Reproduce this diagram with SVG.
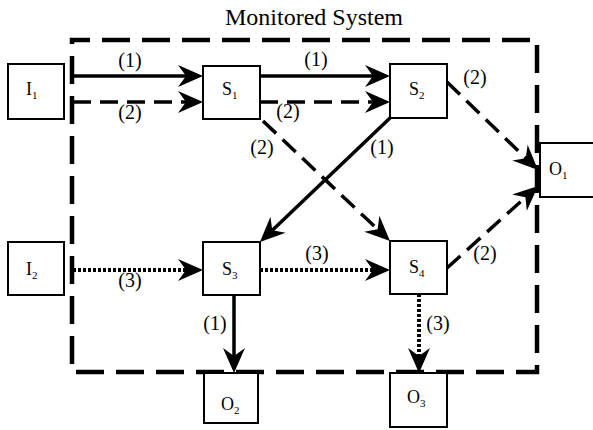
<svg xmlns="http://www.w3.org/2000/svg" width="593" height="430" viewBox="0 0 593 430">
<style>
  text { font-family: "Liberation Serif", "Times New Roman", serif; fill: #000; }
  .box { fill: #fff; stroke: #000; stroke-width: 2; }
  .lbl { font-size: 18px; }
  .sub { font-size: 11px; }
  .num { font-size: 20px; text-anchor: middle; }
  .solid { stroke: #000; stroke-width: 3.5; fill: none; marker-end: url(#ah); }
  .dash { stroke: #000; stroke-width: 3.5; fill: none; stroke-dasharray: 18 9; marker-end: url(#ah); }
  .dot { stroke: #000; stroke-width: 4; fill: none; stroke-dasharray: 3 2; marker-end: url(#ah); }
</style>
<defs>
  <marker id="ah" markerUnits="userSpaceOnUse" markerWidth="26" markerHeight="24" refX="10" refY="11" orient="auto" overflow="visible">
    <path d="M0,0 L25,11 L0,22 L8,11 Z" fill="#000" stroke="none"/>
  </marker>
</defs>
<rect width="593" height="430" fill="#fff"/>
<text x="314" y="25" text-anchor="middle" font-size="24">Monitored System</text>
<g id="boundary">
  <rect x="72" y="40" width="465" height="332" fill="none" stroke="#000" stroke-width="4.5" stroke-dasharray="28 12" stroke-dashoffset="10"/>
</g>
<g id="connectors">
  <line class="solid" x1="73" y1="76" x2="188" y2="76"/>
  <line class="dash" x1="73" y1="102" x2="188" y2="102"/>
  <line class="solid" x1="260" y1="76" x2="375" y2="76"/>
  <line class="dash" x1="260" y1="102" x2="375" y2="102"/>
  <line class="dash" x1="263" y1="121" x2="379.1" y2="230.7"/>
  <line class="solid" x1="390" y1="118" x2="270.8" y2="231.7"/>
  <line class="dash" x1="447" y1="82" x2="527.2" y2="159.6"/>
  <line class="dash" x1="447" y1="268" x2="526.9" y2="196"/>
  <line class="dot" x1="73" y1="270" x2="188" y2="270"/>
  <line class="dot" x1="260" y1="270" x2="375" y2="270"/>
  <line class="solid" x1="234" y1="295" x2="234" y2="358"/>
  <line class="dot" x1="419" y1="294" x2="419" y2="358"/>
  <text class="num" x="130" y="67">(1)</text>
  <text class="num" x="130" y="119">(2)</text>
  <text class="num" x="316" y="66">(1)</text>
  <text class="num" x="288" y="118">(2)</text>
  <text class="num" x="262" y="154">(2)</text>
  <text class="num" x="382" y="154">(1)</text>
  <text class="num" x="475" y="84">(2)</text>
  <text class="num" x="485" y="260">(2)</text>
  <text class="num" x="130" y="287">(3)</text>
  <text class="num" x="317" y="260">(3)</text>
  <text class="num" x="215" y="330">(1)</text>
  <text class="num" x="438" y="330">(3)</text>
</g>
<g id="I1"><rect class="box" x="8" y="64" width="56" height="55"/><text class="lbl" x="26" y="95">I<tspan class="sub" dy="4">1</tspan></text></g>
<g id="I2"><rect class="box" x="8" y="242" width="56" height="53"/><text class="lbl" x="26" y="275">I<tspan class="sub" dy="4">2</tspan></text></g>
<g id="S1"><rect class="box" x="203" y="66" width="57" height="53"/><text class="lbl" x="222" y="95">S<tspan class="sub" dy="4">1</tspan></text></g>
<g id="S2"><rect class="box" x="390" y="64" width="57" height="54"/><text class="lbl" x="409" y="95">S<tspan class="sub" dy="4">2</tspan></text></g>
<g id="S3"><rect class="box" x="203" y="242" width="57" height="53"/><text class="lbl" x="222" y="275">S<tspan class="sub" dy="4">3</tspan></text></g>
<g id="S4"><rect class="box" x="390" y="241" width="57" height="53"/><text class="lbl" x="409" y="273">S<tspan class="sub" dy="4">4</tspan></text></g>
<g id="O1"><rect class="box" x="540" y="143" width="60" height="54"/><text class="lbl" x="549" y="175">O<tspan class="sub" dy="4">1</tspan></text></g>
<g id="O2"><rect class="box" x="204" y="373" width="54" height="50"/><text class="lbl" x="221" y="410">O<tspan class="sub" dy="4">2</tspan></text></g>
<g id="O3"><rect class="box" x="390" y="373" width="57" height="54"/><text class="lbl" x="407" y="403">O<tspan class="sub" dy="4">3</tspan></text></g>
</svg>
